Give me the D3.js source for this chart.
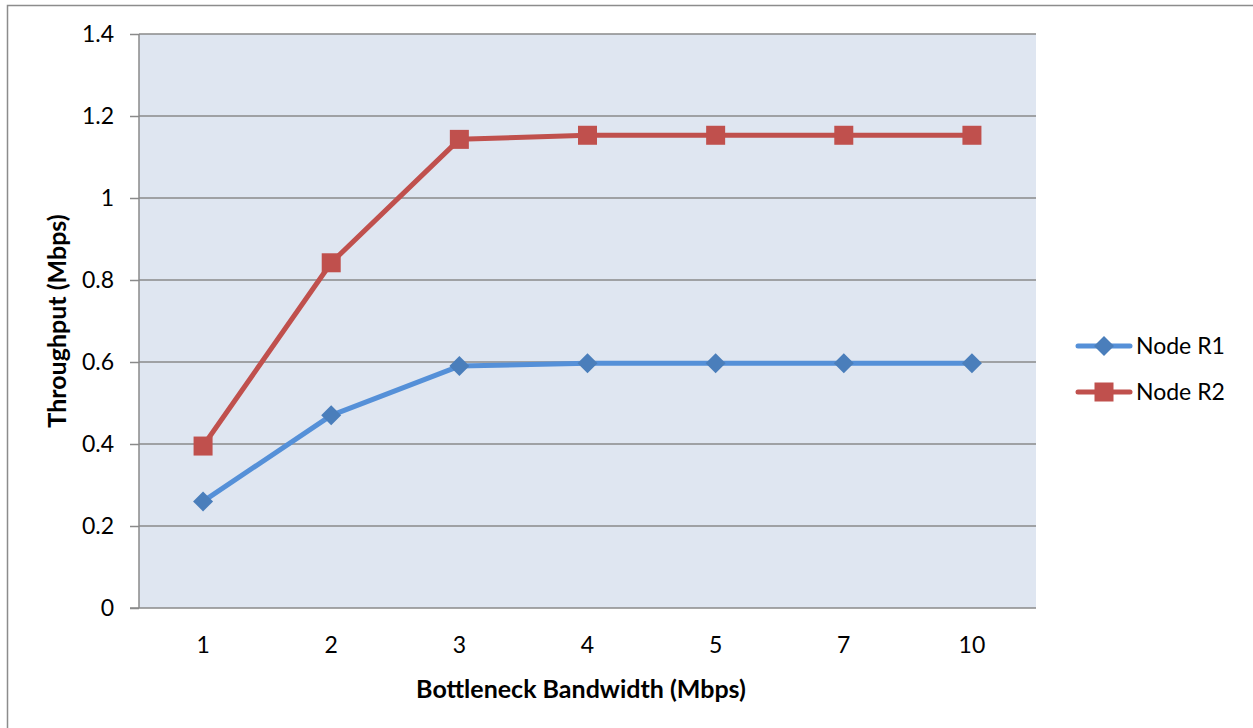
<!DOCTYPE html>
<html>
<head>
<meta charset="utf-8">
<script src="https://cdn.jsdelivr.net/npm/d3@7"></script>
<style>
  html, body { margin: 0; padding: 0; background: #fff; }
  svg { display: block; font-family: Lato, "Open Sans", sans-serif; }
</style>
</head>
<body>
<svg id="chart" width="1253" height="728"></svg>
<script>
// Bandwidth categories (Mbps) and measured throughput per node (Mbps)
const categories = ["1", "2", "3", "4", "5", "7", "10"];
const nodeR1 = [0.26, 0.47, 0.59, 0.597, 0.597, 0.597, 0.597];
const nodeR2 = [0.395, 0.842, 1.143, 1.153, 1.153, 1.153, 1.153];
const seriesNames = ["Node R1", "Node R2"];
const yTicks = [0, 0.2, 0.4, 0.6, 0.8, 1, 1.2, 1.4];

const series = [
  { name: seriesNames[0], values: nodeR1, line: "#5590d8", fill: "#4a7ebb", marker: "diamond" },
  { name: seriesNames[1], values: nodeR2, line: "#c0504d", fill: "#c0504d", marker: "square" }
];

const svg = d3.select("#chart");
const plot = { left: 139, top: 34, right: 1036, bottom: 608 };
const tickFont = 23, titleFont = 25;

// outer chart frame
svg.append("path")
  .attr("d", "M7.5,728 V5.5 H1253")
  .attr("fill", "none").attr("stroke", "#8c8c8c").attr("stroke-width", 1.5);

const x = d3.scaleBand().domain(categories).range([plot.left, plot.right]);
const y = d3.scaleLinear().domain([0, 1.4]).range([plot.bottom, plot.top]);

// plot background
svg.append("rect")
  .attr("x", plot.left).attr("y", plot.top)
  .attr("width", plot.right - plot.left).attr("height", plot.bottom - plot.top)
  .attr("fill", "#dfe6f1");

// horizontal gridlines
svg.append("g").selectAll("line").data(yTicks.filter(d => d > 0)).join("line")
  .attr("x1", plot.left).attr("x2", plot.right)
  .attr("y1", d => y(d)).attr("y2", d => y(d))
  .attr("stroke", "#8a8a8a").attr("stroke-width", 1.5);

// y axis
const yAxis = svg.append("g")
  .attr("transform", `translate(${plot.left},0)`)
  .call(d3.axisLeft(y).tickValues(yTicks).tickSize(9).tickPadding(16)
    .tickFormat(d => d3.format("~g")(d)));
yAxis.selectAll("line, path").attr("stroke", "#8a8a8a").attr("stroke-width", 1.5);
yAxis.select(".domain").attr("d", `M0,${plot.top}V${plot.bottom}`);
yAxis.selectAll("text").attr("font-size", tickFont).attr("fill", "#000").attr("font-family", "Lato, sans-serif");

// x axis
const xAxis = svg.append("g")
  .attr("transform", `translate(0,${plot.bottom})`)
  .call(d3.axisBottom(x).tickSize(0).tickPadding(29));
xAxis.select(".domain").attr("d", `M${plot.left - 9},0H${plot.right}`)
  .attr("stroke", "#8a8a8a").attr("stroke-width", 1.5);
xAxis.selectAll("text").attr("font-size", tickFont).attr("fill", "#000").attr("font-family", "Lato, sans-serif");

// axis titles
svg.append("text")
  .attr("x", 581).attr("y", 698)
  .attr("text-anchor", "middle").attr("font-size", titleFont).attr("font-weight", "bold")
  .text("Bottleneck Bandwidth (Mbps)");
svg.append("text")
  .attr("transform", `translate(66,${(plot.top + plot.bottom) / 2}) rotate(-90)`)
  .attr("text-anchor", "middle").attr("font-size", titleFont).attr("font-weight", "bold")
  .text("Throughput (Mbps)");

const cx = i => x(categories[i]) + x.bandwidth() / 2;
const line = d3.line().x((d, i) => cx(i)).y(d => y(d));

function drawMarker(g, type, px, py, color) {
  if (type === "diamond") {
    const r = 10;
    g.append("path")
      .attr("d", `M${px},${py - r}L${px + r},${py}L${px},${py + r}L${px - r},${py}Z`)
      .attr("fill", color);
  } else {
    const s = 19;
    g.append("rect")
      .attr("x", px - s / 2).attr("y", py - s / 2)
      .attr("width", s).attr("height", s)
      .attr("fill", color);
  }
}

series.forEach(s => {
  svg.append("path").datum(s.values)
    .attr("d", line).attr("fill", "none")
    .attr("stroke", s.line).attr("stroke-width", 5)
    .attr("stroke-linejoin", "round").attr("stroke-linecap", "round");
  const g = svg.append("g");
  s.values.forEach((v, i) => drawMarker(g, s.marker, cx(i), y(v), s.fill));
});

// legend
const legend = svg.append("g");
series.forEach((s, i) => {
  const ly = 346 + i * 46;
  legend.append("line")
    .attr("x1", 1078).attr("x2", 1130).attr("y1", ly).attr("y2", ly)
    .attr("stroke", s.line).attr("stroke-width", 5).attr("stroke-linecap", "round");
  drawMarker(legend, s.marker, 1104, ly, s.fill);
  legend.append("text")
    .attr("x", 1136).attr("y", ly + 8)
    .attr("font-size", tickFont).attr("fill", "#000")
    .text(s.name);
});
</script>
</body>
</html>
